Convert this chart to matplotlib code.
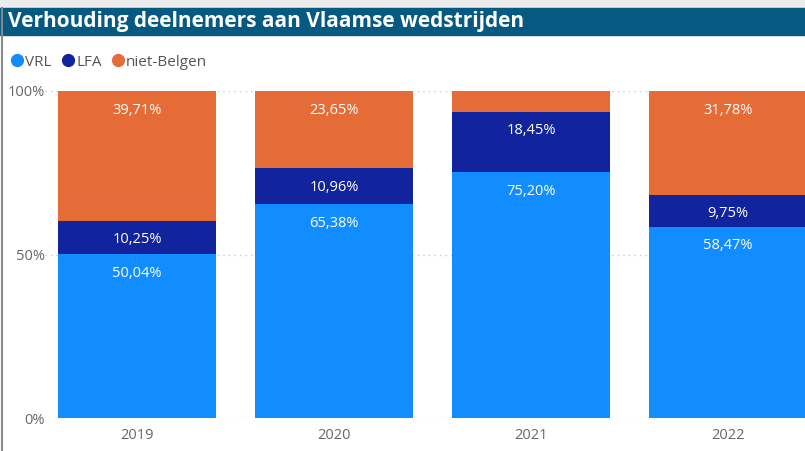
import matplotlib
matplotlib.use('Agg')
import matplotlib.pyplot as plt
from matplotlib.patches import Rectangle
from matplotlib.lines import Line2D
import numpy as np

# data
years = ['2019', '2020', '2021', '2022']
vrl = [50.04, 65.38, 75.20, 58.47]
lfa = [10.25, 10.96, 18.45, 9.75]
niet_belgen = [39.71, 23.65, 6.35, 31.78]

series = [('VRL', vrl, '#118DFF'), ('LFA', lfa, '#12239E'), ('niet-Belgen', niet_belgen, '#E66C37')]

plt.rcParams['font.family'] = ['Open Sans', 'DejaVu Sans']

W, H = 805, 451
fig = plt.figure(figsize=(W / 100, H / 100), dpi=100)

# top strip and title bar
fig.patches.append(Rectangle((0, 1 - 8 / H), 1, 8 / H, transform=fig.transFigure, color='#ececec', zorder=0))
fig.patches.append(Rectangle((0, 1 - 35 / H), 1, 27 / H, transform=fig.transFigure, color='#065a82', zorder=1))
fig.text(8 / W, 1 - 22 / H, 'Verhouding deelnemers aan Vlaamse wedstrijden', color='white',
         fontsize=15, fontweight='bold', va='center', ha='left')
# left border
fig.add_artist(Line2D([1.5 / W, 1.5 / W], [0, 1 - 8 / H], transform=fig.transFigure, color='#888888', lw=1.5))

# legend
handles = [Line2D([], [], marker='o', ls='', color=c, markersize=8.5) for _, _, c in series]
fig.legend(handles, [n for n, _, _ in series], loc='center left', bbox_to_anchor=(0.0, 1 - 62 / H),
           ncol=3, frameon=False, handletextpad=0.05, columnspacing=0.55, handlelength=1.0,
           fontsize=11, labelcolor='#555555', borderaxespad=0.2)

ax = fig.add_axes([45 / W, (H - 418) / H, 760 / W, 327 / H])
x = np.arange(len(years))
width = 0.802
bottom = np.zeros(len(years))
for name, vals, color in series:
    vals = np.array(vals) / 100
    ax.bar(x, vals, width, bottom=bottom, color=color, zorder=2)
    tops = bottom + vals
    for xi, top, v in zip(x, tops, vals):
        if v >= 0.08:
            ax.annotate(f'{v * 100:.2f}'.replace('.', ',') + '%', (xi, top), xytext=(0, -19),
                        textcoords='offset pixels', ha='center', va='center', color='white',
                        fontsize=10.5, fontweight='medium')
    bottom = tops

ax.set_xlim(-0.467, 3.391)
ax.set_ylim(0, 1)
ax.set_yticks([0, 0.5, 1])
ax.set_yticklabels(['0%', '50%', '100%'])
ax.set_xticks(x)
ax.set_xticklabels(years)
ax.tick_params(length=0, colors='#666666', labelsize=10.5)
ax.tick_params(axis='x', pad=7)
ax.tick_params(axis='y', pad=0)
ax.grid(axis='y', linestyle=(0, (1, 3)), color='#c8c8c8', lw=1, zorder=1)
for s in ax.spines.values():
    s.set_visible(False)

fig.savefig('out.png', dpi=100)
